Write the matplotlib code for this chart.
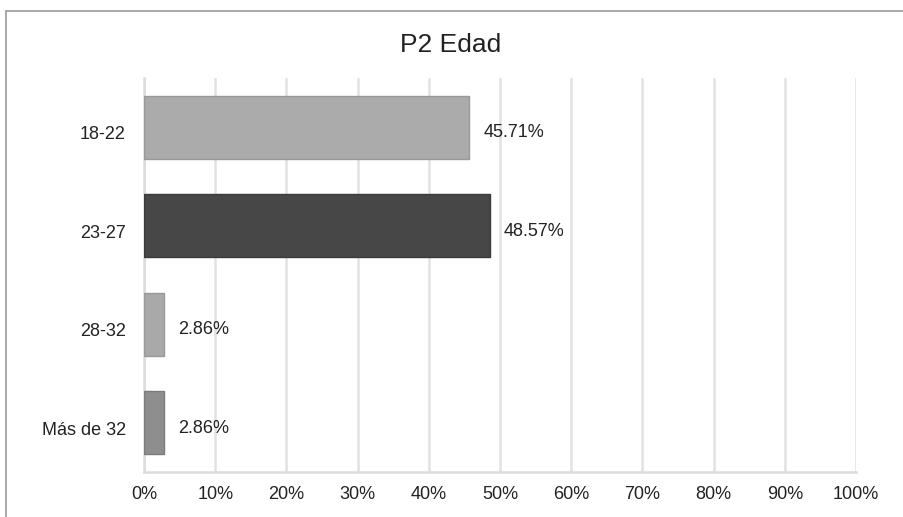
import matplotlib
matplotlib.use("Agg")
import matplotlib.pyplot as plt
from matplotlib.patches import Rectangle
from matplotlib.ticker import FuncFormatter
import matplotlib.transforms as mtransforms

categories = ["18-22", "23-27", "28-32", "Más de 32"]
values = [45.71, 48.57, 2.86, 2.86]
bar_colors = ["#ababab", "#474747", "#a9a9a9", "#8e8e8e"]
edge_colors = ["#999999", "#3a3a3a", "#999999", "#7c7c7c"]
title = "P2 Edad"

plt.rcParams["font.family"] = ["Liberation Sans", "DejaVu Sans"]

fig = plt.figure(figsize=(9.04, 5.17), dpi=100)
fig.patch.set_facecolor("white")

# outer frame (top and left visible, others cropped)
fig.patches.append(Rectangle((6 / 904, -0.1), 1.2, 1 - 11 / 517 + 0.1,
                             transform=fig.transFigure, fill=False,
                             edgecolor="#9a9a9a", linewidth=1.2))

ax = fig.add_axes([144 / 904, 1 - 472 / 517, 712 / 904, (472 - 78) / 517])
y = list(range(len(categories)))
ax.barh(y, values, height=0.64, color=bar_colors, edgecolor=edge_colors, linewidth=1.0, zorder=3)
ax.set_ylim(len(categories) - 0.5, -0.5)
ax.set_xlim(0, 100)
ax.set_xticks(range(0, 101, 10))
ax.xaxis.set_major_formatter(FuncFormatter(lambda v, p: f"{int(v)}%"))
ax.set_yticks(y)
ax.set_yticklabels(categories)
ax.tick_params(axis="both", length=0, labelsize=13, colors="#222222")
ax.tick_params(axis="x", pad=10)
ax.tick_params(axis="y", pad=13)
shift = mtransforms.ScaledTranslation(0, -4 / 72, fig.dpi_scale_trans)
for lab in ax.get_yticklabels():
    lab.set_transform(lab.get_transform() + shift)
ax.grid(axis="x", color="#e2e2e2", linewidth=1.8, zorder=0)
for s in ["top", "right"]:
    ax.spines[s].set_visible(False)
for s in ["left", "bottom"]:
    ax.spines[s].set_color("#dcdcdc")
    ax.spines[s].set_linewidth(1.8)

for yi, v in zip(y, values):
    ax.annotate(f"{v:.2f}%", xy=(v, yi), xytext=(10, -4), textcoords="offset points",
                ha="left", va="center", fontsize=13, color="#222222")

fig.text(451 / 904, 1 - 45 / 517, title, ha="center", va="center", fontsize=19, color="#222222")

fig.savefig("out.png", dpi=100, facecolor="white")
